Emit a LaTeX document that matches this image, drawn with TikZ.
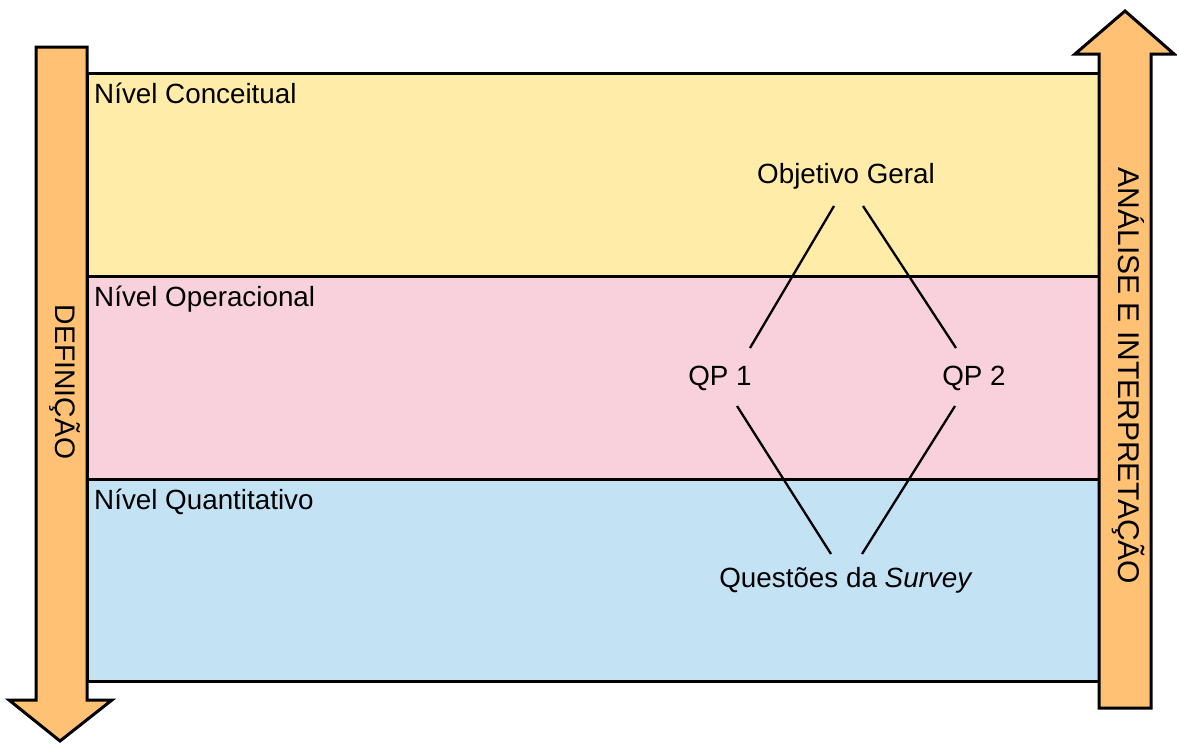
\documentclass[tikz,border=0pt]{standalone}
\usepackage{fontspec}
\setmainfont{Liberation Sans}
\usetikzlibrary{calc}
\definecolor{arroworange}{HTML}{FFC274}
\definecolor{bandyellow}{HTML}{FFECA9}
\definecolor{bandpink}{HTML}{F9D1DD}
\definecolor{bandblue}{HTML}{C3E3F5}
\tikzset{
  band/.style={draw=black, line width=3pt},
  bigarrow/.style={draw=black, fill=arroworange, line width=3pt, line join=miter},
  lbl/.style={inner sep=0pt, font=\fontsize{27.8}{33}\selectfont},
  biglbl/.style={inner sep=0pt, font=\fontsize{30}{36}\selectfont},
  link/.style={draw=black, line width=2.3pt},
}
\begin{document}
\begin{tikzpicture}[x=1pt,y=-1pt]
\useasboundingbox (0,0) rectangle (1177,744);
% bands
\path[band, fill=bandyellow] (87,73) rectangle (1099,276);
\path[band, fill=bandpink] (87,276) rectangle (1099,479);
\path[band, fill=bandblue] (87,479) rectangle (1099,681);
% big arrows
\path[bigarrow] (36,47) -- (87,47) -- (87,700) -- (112,700) -- (60,741) -- (9,700) -- (36,700) -- cycle;
\path[bigarrow] (1099,708) -- (1151,708) -- (1151,54) -- (1174,54) -- (1125,11) -- (1075,54) -- (1099,54) -- cycle;
% arrow labels
\node[lbl, font=\fontsize{28.3}{34}\selectfont, rotate=-90, anchor=base] (def) at (55,382) {DEFINIÇÃO};
\node[biglbl, rotate=-90, anchor=base] (ana) at (1118,376) {ANÁLISE E INTERPRETAÇÃO};
% band labels
\node[lbl, anchor=base west] (conc) at (94,103) {Nível Conceitual};
\node[lbl, anchor=base west] (oper) at (94,306) {Nível Operacional};
\node[lbl, anchor=base west] (quant) at (94,509) {Nível Quantitativo};
% content nodes
\node[lbl, anchor=base] (og) at (846,183) {Objetivo Geral};
\node[lbl, anchor=base] (qp1) at (720,385) {QP 1};
\node[lbl, anchor=base] (qp2) at (974,385) {QP 2};
\node[lbl, anchor=base] (qs) at (846,587) {Questões da \textit{Survey}};
% connectors
\draw[link] ($(og.base)+(-12,23)$) -- ($(qp1.base)+(30,-37)$);
\draw[link] ($(og.base)+(17,23)$) -- ($(qp2.base)+(-18,-37)$);
\draw[link] ($(qp1.base)+(17,21)$) -- ($(qs.base)+(-15,-33)$);
\draw[link] ($(qp2.base)+(-19,21)$) -- ($(qs.base)+(16,-33)$);
\end{tikzpicture}
\end{document}
